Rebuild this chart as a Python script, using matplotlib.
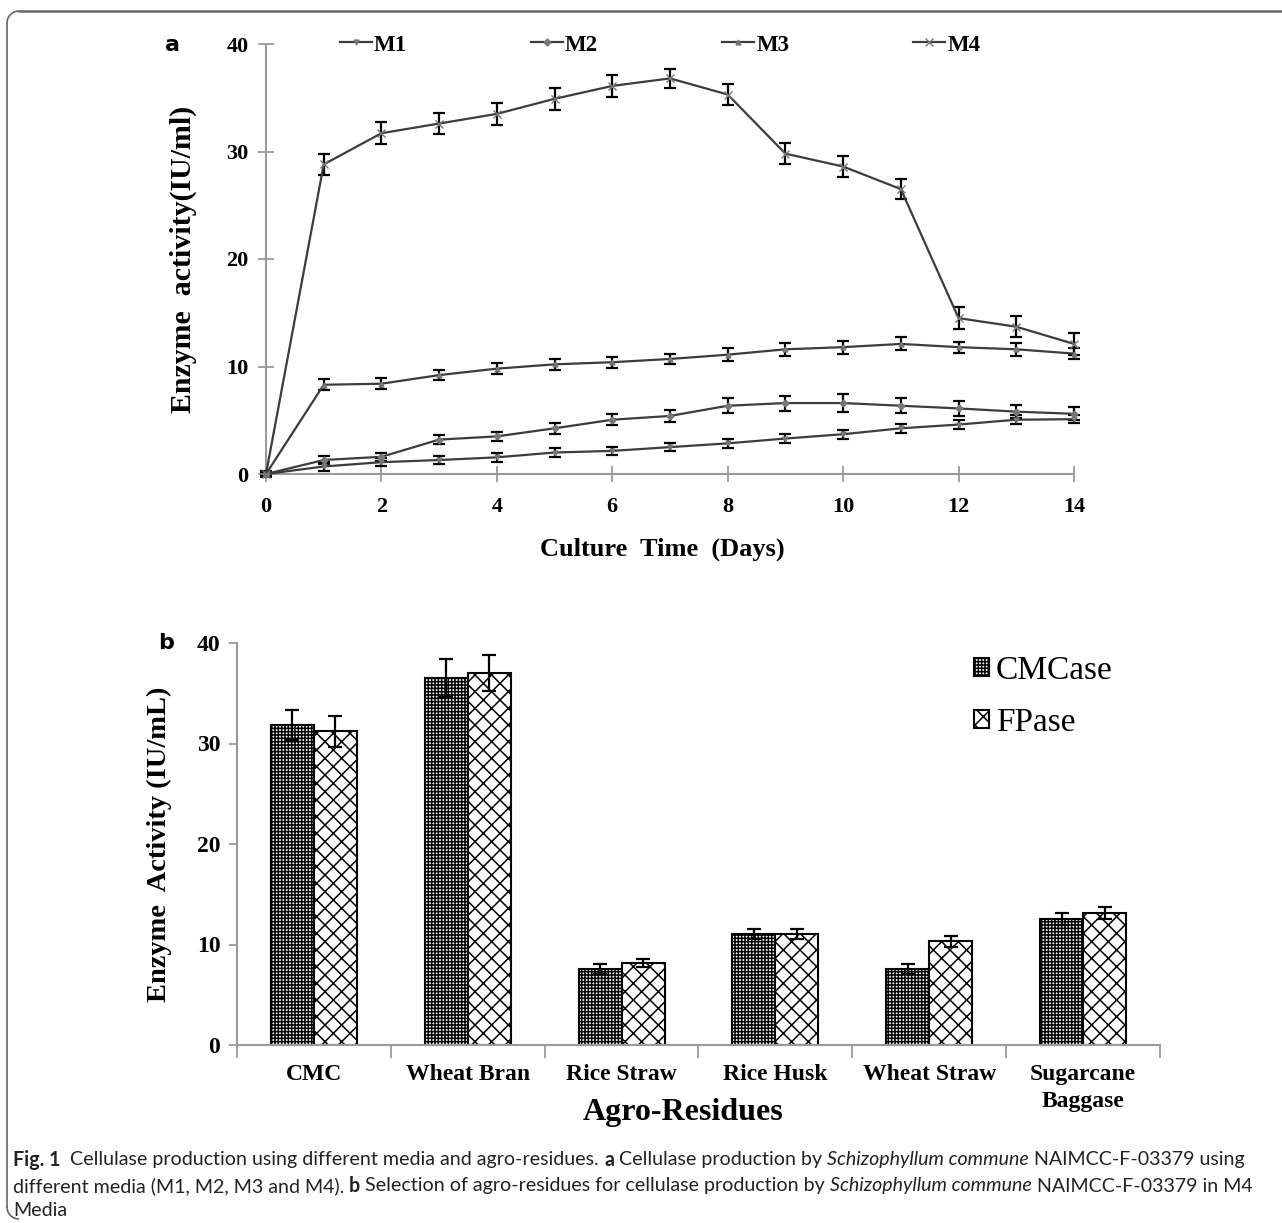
import numpy as np
import matplotlib
matplotlib.use('Agg')
import matplotlib.pyplot as plt
from matplotlib import font_manager
from matplotlib.lines import Line2D
from matplotlib.patches import Arc

# ---- data, panel a (enzyme activity vs culture time) ----
days = np.arange(15)
m1 = [0, 0.7, 1.1, 1.3, 1.55, 2.0, 2.15, 2.5, 2.85, 3.3, 3.7, 4.25, 4.6, 5.05, 5.1]
m1_err = [0.2, 0.4, 0.4, 0.4, 0.4, 0.4, 0.4, 0.4, 0.4, 0.4, 0.4, 0.4, 0.4, 0.4, 0.4]
m2 = [0, 1.3, 1.6, 3.2, 3.5, 4.25, 5.05, 5.4, 6.35, 6.6, 6.6, 6.35, 6.1, 5.8, 5.6]
m2_err = [0.2, 0.4, 0.4, 0.4, 0.4, 0.5, 0.5, 0.6, 0.7, 0.7, 0.8, 0.7, 0.7, 0.6, 0.6]
m3 = [0, 8.3, 8.4, 9.2, 9.8, 10.2, 10.4, 10.7, 11.1, 11.6, 11.8, 12.1, 11.8, 11.6, 11.2]
m3_err = [0.2, 0.5, 0.5, 0.5, 0.5, 0.5, 0.5, 0.5, 0.6, 0.6, 0.6, 0.6, 0.5, 0.6, 0.5]
m4 = [0, 28.8, 31.7, 32.6, 33.5, 34.9, 36.1, 36.8, 35.3, 29.8, 28.6, 26.5, 14.5, 13.7, 12.1]
m4_err = [0.3, 1.0, 1.0, 1.0, 1.0, 1.0, 1.0, 0.9, 1.0, 1.0, 1.0, 0.9, 1.0, 1.0, 1.0]

# ---- data, panel b (agro-residues) ----
residues = ['CMC', 'Wheat Bran', 'Rice Straw', 'Rice Husk', 'Wheat Straw', 'Sugarcane\nBaggase']
cmcase = [31.8, 36.5, 7.6, 11.0, 7.6, 12.5]
cmcase_err = [1.5, 1.9, 0.5, 0.5, 0.5, 0.6]
fpase = [31.2, 37.0, 8.2, 11.0, 10.3, 13.1]
fpase_err = [1.5, 1.8, 0.4, 0.5, 0.5, 0.6]

W, H = 1282, 1223
fig = plt.figure(figsize=(W / 100, H / 100), dpi=100)
fig.patch.set_facecolor('white')
plt.rcParams['hatch.linewidth'] = 1.1

serif = 'Liberation Serif'
axis_gray = '#9a9a9a'
line_gray = '#3c3c3c'


def fx(px):
    return px / W


def fy(py):
    return 1 - py / H


# ================= panel a =================
ax1 = fig.add_axes([fx(266), fy(474), (1074 - 266) / W, (474 - 44) / H])
series = [(m1, m1_err, 'M1', 'v'), (m2, m2_err, 'M2', 'D'),
          (m3, m3_err, 'M3', '^'), (m4, m4_err, 'M4', 'x')]
handles = []
for vals, err, name, mk in series:
    ax1.errorbar(days, vals, yerr=err, fmt='none', ecolor='black', elinewidth=1.6,
                 capsize=4.5, capthick=1.6, clip_on=False, zorder=3)
    h, = ax1.plot(days, vals, color=line_gray, lw=1.6, marker=mk,
                  ms=3.5 if mk != 'x' else 6, mfc='#777777', mec='#777777',
                  clip_on=False, zorder=4, label=name)
    handles.append(h)

ax1.set_xlim(0, 14)
ax1.set_ylim(0, 40)
ax1.set_xticks(range(0, 15, 2))
ax1.set_yticks(range(0, 41, 10))
for s in ['top', 'right']:
    ax1.spines[s].set_visible(False)
for s in ['left', 'bottom']:
    ax1.spines[s].set_color(axis_gray)
    ax1.spines[s].set_linewidth(1.5)
ax1.tick_params(axis='both', direction='inout', length=11, width=1.3, color=axis_gray, pad=7)
ax1.tick_params(axis='x', pad=11)
for lab in ax1.get_xticklabels() + ax1.get_yticklabels():
    lab.set_fontfamily(serif)
    lab.set_fontweight('bold')
    lab.set_fontsize(16)
ax1.set_xlabel('Culture  Time  (Days)', fontfamily=serif, fontweight='bold', fontsize=19)
ax1.set_ylabel('Enzyme  activity(IU/ml)', fontfamily=serif, fontweight='bold', fontsize=21.5)
ax1.xaxis.set_label_coords(0.491, -0.147)
ax1.yaxis.set_label_coords(-0.086, 0.5)

ax1.legend(handles=handles, ncol=4, loc='center', frameon=False,
           bbox_to_anchor=(fx(660), fy(45)), bbox_transform=fig.transFigure,
           prop={'family': serif, 'weight': 'bold', 'size': 16.5},
           handlelength=1.4, handletextpad=0.1, columnspacing=5.4)

fig.text(fx(173), fy(45), 'a', fontsize=16, fontweight='bold', family='DejaVu Sans',
         ha='center', va='center')

# ================= panel b =================
ax2 = fig.add_axes([fx(237), fy(1045), (1160 - 237) / W, (1045 - 643) / H])
x = np.arange(len(residues))
bw = 0.28
ax2.bar(x - bw / 2, cmcase, bw, yerr=cmcase_err, facecolor='white', edgecolor='black',
        hatch='+++++', linewidth=1.5, label='CMCase',
        error_kw=dict(ecolor='black', elinewidth=1.6, capsize=5, capthick=1.6))
ax2.bar(x + bw / 2, fpase, bw, yerr=fpase_err, facecolor='white', edgecolor='black',
        hatch='xx', linewidth=1.5, label='FPase',
        error_kw=dict(ecolor='black', elinewidth=1.6, capsize=5, capthick=1.6))
ax2.set_xlim(-0.5, len(residues) - 0.5)
ax2.set_ylim(0, 40)
ax2.set_yticks(range(0, 41, 10))
ax2.set_xticks(x)
ax2.set_xticklabels(residues, linespacing=1.35)
ax2.set_xticks(np.arange(-0.5, len(residues), 1.0), minor=True)
for s in ['top', 'right']:
    ax2.spines[s].set_visible(False)
for s in ['left', 'bottom']:
    ax2.spines[s].set_color(axis_gray)
    ax2.spines[s].set_linewidth(1.5)
ax2.tick_params(axis='x', which='major', length=0, pad=14)
ax2.tick_params(axis='x', which='minor', direction='out', length=9, width=1.3, color=axis_gray)
ax2.tick_params(axis='y', direction='out', length=6, width=1.3, color=axis_gray, pad=6)
for lab in ax2.get_xticklabels() + ax2.get_yticklabels():
    lab.set_fontfamily(serif)
    lab.set_fontweight('bold')
    lab.set_fontsize(17)
ax2.set_xlabel('Agro-Residues', fontfamily=serif, fontweight='bold', fontsize=23)
ax2.set_ylabel('Enzyme  Activity (IU/mL)', fontfamily=serif, fontweight='bold', fontsize=20.5)
ax2.xaxis.set_label_coords(0.483, -0.132)
ax2.yaxis.set_label_coords(-0.070, 0.5)
ax2.legend(loc='upper left', bbox_to_anchor=(fx(951), fy(632)), bbox_transform=fig.transFigure,
           frameon=False, prop={'family': serif, 'size': 24}, handlelength=0.45,
           handleheight=0.45, handletextpad=0.2, labelspacing=0.65, borderpad=0.2)

fig.text(fx(166), fy(643), 'b', fontsize=16, fontweight='bold', family='DejaVu Sans',
         ha='center', va='center')

# ================= caption =================
names = {f.name for f in font_manager.fontManager.ttflist}
cap_font = 'DejaVu Sans'
for cand in ['Liberation Sans Narrow', 'Lato', 'Open Sans']:
    if cand in names:
        cap_font = cand
        break

cap_lines = [
    [('Fig. 1', 'bold', 'normal'), ('  Cellulase production using different media and agro-residues. ', 'normal', 'normal'),
     ('a', 'bold', 'normal'), (' Cellulase production by ', 'normal', 'normal'),
     ('Schizophyllum commune', 'normal', 'italic'), (' NAIMCC-F-03379 using', 'normal', 'normal')],
    [('different media (M1, M2, M3 and M4). ', 'normal', 'normal'), ('b', 'bold', 'normal'),
     (' Selection of agro-residues for cellulase production by ', 'normal', 'normal'),
     ('Schizophyllum commune', 'normal', 'italic'), (' NAIMCC-F-03379 in M4', 'normal', 'normal')],
    [('Media', 'normal', 'normal')],
]
cap_y = [1160, 1186, 1211]
renderer = fig.canvas.get_renderer()


def draw_runs(runs, x0, y0, size):
    xpos = x0
    texts = []
    for s, wt, st in runs:
        t = fig.text(fx(xpos), fy(y0), s, fontsize=size, fontweight=wt, fontstyle=st,
                     family=cap_font, ha='left', va='center', color='#222222')
        bb = t.get_window_extent(renderer)
        xpos += bb.width
        texts.append(t)
    return xpos - x0, texts


w0, tmp = draw_runs(cap_lines[0], 13, cap_y[0], 12)
for t in tmp:
    t.remove()
cap_size = 12 * (1237 - 13) / w0
for runs, yy in zip(cap_lines, cap_y):
    draw_runs(runs, 13, yy, cap_size)

# ================= frame =================
r = 12
fc = '#666666'
fig.add_artist(Line2D([fx(7 + r), 1.0], [fy(11), fy(11)], color=fc, lw=1.8))
fig.add_artist(Line2D([fx(7), fx(7)], [fy(11 + r), fy(1219 - r)], color=fc, lw=1.2))
for cy, th1, th2 in [(11 + r, 90, 180), (1219 - r, 180, 270)]:
    fig.add_artist(Arc((7 + r, H - cy), 2 * r, 2 * r, theta1=th1, theta2=th2,
                       transform=None, color=fc, lw=1.2))

fig.savefig('out.png', dpi=100, facecolor='white')
